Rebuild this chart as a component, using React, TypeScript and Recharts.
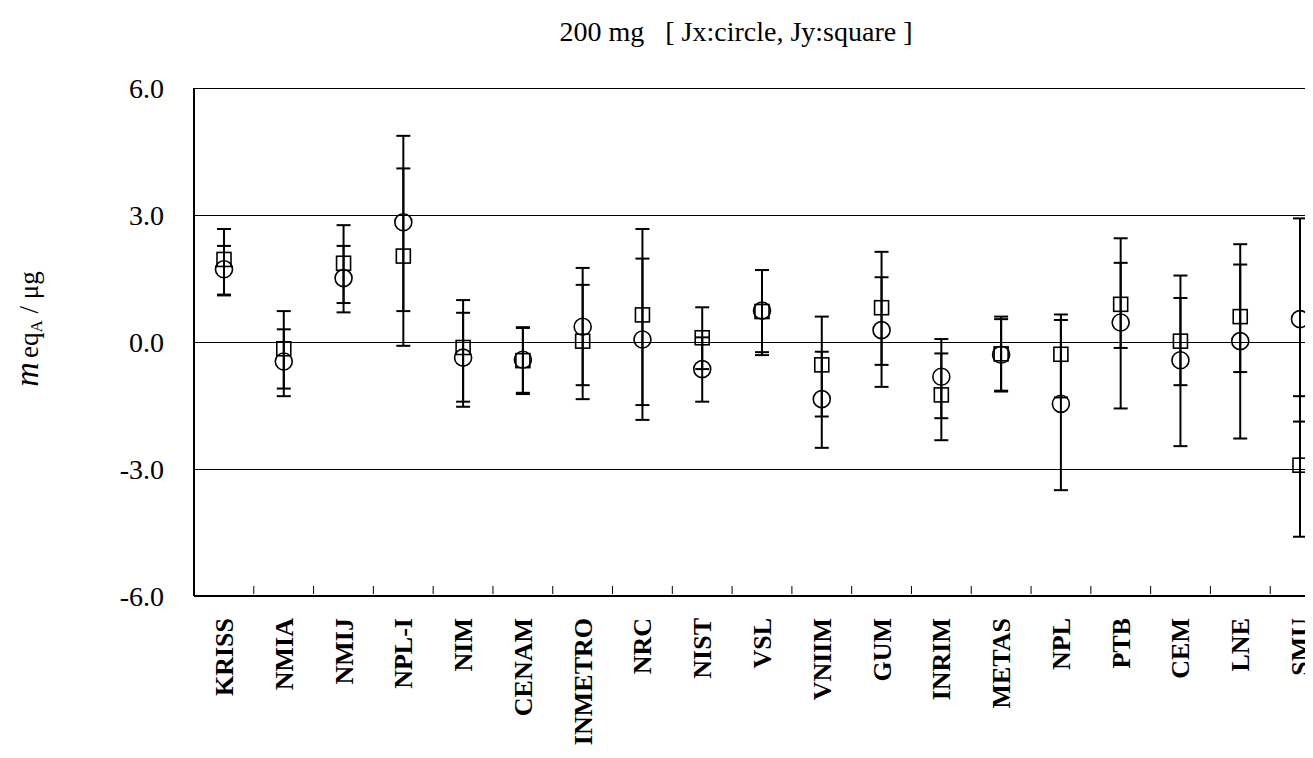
import { ComposedChart, Line, ErrorBar, XAxis, YAxis, CartesianGrid } from "recharts";

const institutes = [
  "KRISS", "NMIA", "NMIJ", "NPL-I", "NIM", "CENAM", "INMETRO", "NRC", "NIST", "VSL",
  "VNIIM", "GUM", "INRIM", "METAS", "NPL", "PTB", "CEM", "LNE", "SMU",
];

// Jx (circle)
const jxValue = [1.72, -0.46, 1.51, 2.83, -0.37, -0.42, 0.36, 0.06, -0.64, 0.74, -1.35, 0.28, -0.82, -0.3, -1.46, 0.46, -0.43, 0.02, 0.54];
const jxLow = [1.12, -1.28, 0.7, 0.73, -1.41, -1.2, -1.02, -1.84, -1.41, -0.24, -2.5, -1.06, -1.8, -1.17, -3.5, -1.57, -2.46, -2.28, -1.88];
const jxHigh = [2.27, 0.3, 2.27, 4.87, 0.69, 0.35, 1.75, 1.97, 0.11, 1.7, -0.23, 1.53, 0.07, 0.54, 0.52, 2.45, 1.57, 2.31, 2.92];

// Jy (square)
const jyValue = [1.95, -0.16, 1.86, 2.03, -0.13, -0.44, 0.02, 0.64, 0.1, 0.72, -0.54, 0.81, -1.25, -0.28, -0.29, 0.89, 0.02, 0.6, -2.91];
const jyLow = [1.1, -1.1, 0.92, -0.09, -1.53, -1.23, -1.35, -1.49, -0.64, -0.31, -1.76, -0.54, -2.32, -1.15, -1.31, -0.14, -1.02, -0.71, -4.6];
const jyHigh = [2.67, 0.73, 2.76, 4.1, 0.99, 0.33, 1.35, 2.67, 0.82, 1.7, 0.6, 2.13, -0.27, 0.6, 0.65, 1.87, 1.04, 1.83, -1.28];

const yTicks = [-6, -3, 0, 3, 6];
const edgeTicks = institutes.slice(1).map((_, i) => i + 1);

const data = institutes.map((name, i) => ({
  name,
  edge: i + 0.5,
  jx: jxValue[i],
  jxErr: [jxValue[i] - jxLow[i], jxHigh[i] - jxValue[i]],
  jy: jyValue[i],
  jyErr: [jyValue[i] - jyLow[i], jyHigh[i] - jyValue[i]],
}));

const serif = "'Liberation Serif', 'Times New Roman', serif";

const CircleDot = (p: any) =>
  p.cx == null ? null : (
    <circle key={`c${p.index}`} cx={p.cx} cy={p.cy} r={8.5} fill="none" stroke="#000" strokeWidth={1.6} />
  );

const SquareDot = (p: any) =>
  p.cx == null ? null : (
    <rect key={`s${p.index}`} x={p.cx - 7} y={p.cy - 7} width={14} height={14} fill="none" stroke="#000" strokeWidth={1.6} />
  );

const NameTick = (p: any) => (
  <text
    x={p.x + 9}
    y={p.y + 14}
    transform={`rotate(-90, ${p.x + 9}, ${p.y + 14})`}
    textAnchor="end"
    fontFamily={serif}
    fontWeight="bold"
    fontSize={26}
    fill="#000"
  >
    {p.payload.value}
  </text>
);

// small upward tick at each category boundary
const EdgeTick = (p: any) => (
  <line x1={p.x} x2={p.x} y1={p.y - 10} y2={p.y - 2} stroke="#000" strokeWidth={1} />
);

const YLabel = () => (
  <text
    x={30}
    y={321}
    transform="rotate(-90, 30, 321)"
    textAnchor="middle"
    fontFamily={serif}
    fill="#000"
  >
    <tspan fontSize={34} fontStyle="italic">m</tspan>
    <tspan fontSize={27} dx={4}>eq</tspan>
    <tspan fontSize={17} dy={4}>A</tspan>
    <tspan fontSize={27} dy={-4} style={{ whiteSpace: "pre" }}> / μg</tspan>
  </text>
);

export default function App() {
  return (
    <div style={{ position: "relative", width: 1305, height: 742, overflow: "hidden", background: "#fff" }}>
      <div
        style={{
          position: "absolute",
          left: 728,
          top: 8,
          transform: "translateX(-50%)",
          fontFamily: serif,
          fontSize: 28,
          whiteSpace: "pre",
          color: "#000",
        }}
      >
        {"200 mg   [ Jx:circle, Jy:square ]"}
      </div>
      <ComposedChart width={1330} height={742} data={data} margin={{ top: 80, right: 8, bottom: 2, left: 0 }}>
        <CartesianGrid vertical={false} stroke="#000" strokeWidth={1} shapeRendering="crispEdges" />
        <XAxis
          xAxisId="cat"
          dataKey="name"
          interval={0}
          height={152}
          padding={{ left: 30, right: 30 }}
          tickLine={false}
          axisLine={{ stroke: "#000", strokeWidth: 2 }}
          tick={<NameTick />}
        />
        <XAxis
          xAxisId="edges"
          dataKey="edge"
          type="number"
          domain={[0, institutes.length]}
          ticks={edgeTicks}
          interval={0}
          allowDataOverflow
          mirror
          height={10}
          axisLine={false}
          tickLine={false}
          tickSize={0}
          tickMargin={0}
          tick={<EdgeTick />}
        />
        <YAxis
          domain={[-6, 6]}
          ticks={yTicks}
          width={186}
          tickLine={false}
          tickMargin={24}
          axisLine={{ stroke: "#000", strokeWidth: 2 }}
          tickFormatter={(v: number) => v.toFixed(1)}
          tick={{ fill: "#000", fontFamily: serif, fontSize: 28 }}
          label={<YLabel />}
        />
        <Line
          xAxisId="cat"
          dataKey="jy"
          stroke="none"
          strokeWidth={0}
          dot={<SquareDot />}
          activeDot={false}
          isAnimationActive={false}
        >
          <ErrorBar dataKey="jyErr" direction="y" width={7} stroke="#000" strokeWidth={2} />
        </Line>
        <Line
          xAxisId="cat"
          dataKey="jx"
          stroke="none"
          strokeWidth={0}
          dot={<CircleDot />}
          activeDot={false}
          isAnimationActive={false}
        >
          <ErrorBar dataKey="jxErr" direction="y" width={7} stroke="#000" strokeWidth={2} />
        </Line>
      </ComposedChart>
    </div>
  );
}
